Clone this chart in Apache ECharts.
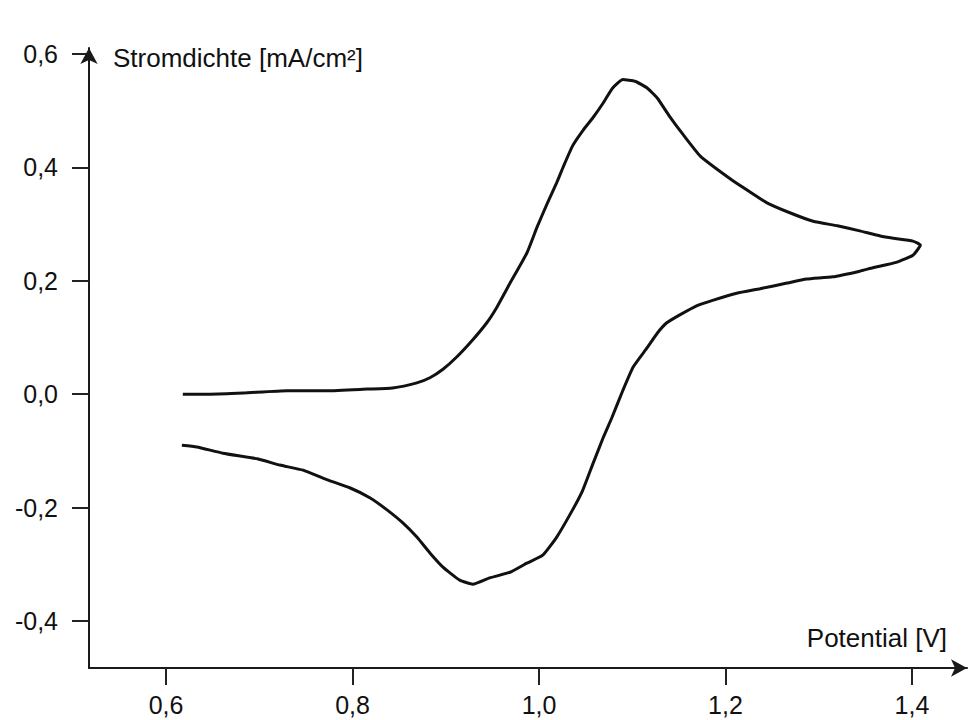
<!DOCTYPE html>
<html>
<head>
<meta charset="utf-8">
<script src="https://cdn.jsdelivr.net/npm/echarts@6/dist/echarts.min.js"></script>
<style>
html,body{margin:0;padding:0;background:#fff;}
#chart{width:973px;height:720px;}
</style>
</head>
<body>
<div id="chart"></div>
<script>
// Cyclic voltammogram: potential [V] and current density [mA/cm²], in scan order
const potentialV = [
  0.618, 0.647, 0.683, 0.730, 0.773, 0.816, 0.843, 0.869, 0.883, 0.897,
  0.912, 0.929, 0.944, 0.955, 0.969, 0.987, 0.998, 1.009, 1.019, 1.026,
  1.036, 1.047, 1.058, 1.069, 1.079, 1.090, 1.103, 1.116, 1.127, 1.140,
  1.154, 1.173, 1.205, 1.226, 1.244, 1.269, 1.294, 1.320, 1.344, 1.366,
  1.380, 1.401, 1.409,
  1.401, 1.384, 1.358, 1.344, 1.315, 1.287, 1.266, 1.237, 1.212, 1.187,
  1.169, 1.151, 1.137, 1.127, 1.116, 1.101, 1.090, 1.078, 1.069, 1.058,
  1.047, 1.036, 1.019, 1.004, 0.987, 0.969, 0.947, 0.929, 0.915, 0.897,
  0.883, 0.869, 0.854, 0.837, 0.819, 0.797, 0.773, 0.747, 0.722, 0.698,
  0.661, 0.633, 0.617
];
const currentDensity = [
  0.000, 0.000, 0.002, 0.006, 0.006, 0.009, 0.011, 0.020, 0.029, 0.044,
  0.066, 0.096, 0.126, 0.154, 0.196, 0.249, 0.295, 0.337, 0.373, 0.401,
  0.438, 0.465, 0.488, 0.514, 0.540, 0.555, 0.552, 0.540, 0.522, 0.490,
  0.459, 0.420, 0.380, 0.357, 0.338, 0.320, 0.305, 0.297, 0.288, 0.279,
  0.275, 0.270, 0.263,
  0.245, 0.233, 0.223, 0.217, 0.207, 0.203, 0.196, 0.186, 0.178, 0.166,
  0.156, 0.140, 0.126, 0.108, 0.082, 0.048, 0.007, -0.042, -0.076, -0.122,
  -0.169, -0.204, -0.252, -0.284, -0.298, -0.314, -0.324, -0.335, -0.328, -0.305,
  -0.280, -0.252, -0.227, -0.204, -0.183, -0.165, -0.151, -0.134, -0.125, -0.114,
  -0.104, -0.093, -0.090
];
const xTickValues = [0.6, 0.8, 1.0, 1.2, 1.4];
const yTickValues = [-0.4, -0.2, 0.0, 0.2, 0.4, 0.6];
const xAxisTitle = 'Potential [V]';
const yAxisTitle = 'Stromdichte [mA/cm²]';

const chart = echarts.init(document.getElementById('chart'), null, {renderer: 'svg'});
const fmt = v => v.toFixed(1).replace('.', ',');
const FONT = '"Liberation Sans", Arial, sans-serif';
const axisColor = '#1a1a1a';

const option = {
  backgroundColor: '#ffffff',
  animation: false,
  grid: {left: 89, right: 6, top: 48, bottom: 52, containLabel: false},
  xAxis: {
    type: 'value',
    min: 0.5174,
    max: 1.459,
    axisLine: {show: true, onZero: false, symbol: ['none', 'arrow'], symbolSize: [13, 16],
      lineStyle: {color: axisColor, width: 2}},
    axisTick: {show: true, length: 17, customValues: xTickValues, lineStyle: {color: '#222', width: 2}},
    axisLabel: {show: true, customValues: xTickValues, formatter: fmt, margin: 24,
      fontFamily: FONT, fontSize: 25, color: '#111'},
    splitLine: {show: false}
  },
  yAxis: {
    type: 'value',
    min: -0.4829,
    max: 0.6106,
    axisLine: {show: true, onZero: false, symbol: ['none', 'arrow'], symbolSize: [13, 16],
      lineStyle: {color: axisColor, width: 2}},
    axisTick: {show: true, length: 17, customValues: yTickValues, lineStyle: {color: '#222', width: 2}},
    axisLabel: {show: true, customValues: yTickValues, formatter: fmt, margin: 31,
      fontFamily: FONT, fontSize: 25, color: '#111'},
    splitLine: {show: false}
  },
  graphic: [
    {type: 'text', left: 113, top: 45, style: {text: yAxisTitle, fontFamily: FONT, fontSize: 26, fill: '#111'}},
    {type: 'text', right: 26, top: 625, style: {text: xAxisTitle, fontFamily: FONT, fontSize: 26, fill: '#111'}}
  ],
  series: [{
    type: 'line',
    data: potentialV.map((x, i) => [x, currentDensity[i]]),
    showSymbol: false,
    smooth: 0.15,
    lineStyle: {color: '#111', width: 3},
    clip: false
  }]
};
chart.setOption(option);
</script>
</body>
</html>
